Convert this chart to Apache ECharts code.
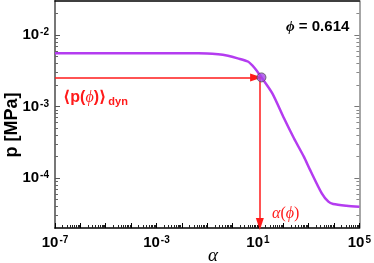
<!DOCTYPE html>
<html><head><meta charset="utf-8">
<script src="https://cdn.jsdelivr.net/npm/echarts@6/dist/echarts.min.js"></script>
<style>html,body{margin:0;padding:0;background:#fff}#c{width:374px;height:263px}</style>
</head><body><div id="c"></div>
<script>
// Curve data
const alpha = [1e-7, 0.045, 0.27, 0.66, 1.6, 4.0, 7.4, 13.8, 37, 107, 263, 646, 1150, 3300, 6000, 9300, 31000, 1e5];
const pressure = [5.56e-3, 5.56e-3, 5.38e-3, 5.13e-3, 4.73e-3, 4.27e-3, 3.47e-3, 2.56e-3, 1.53e-3, 6.85e-4, 3.6e-4, 1.99e-4, 1.29e-4, 6.1e-5, 4.67e-5, 4.34e-5, 4.1e-5, 3.97e-5];
// Annotation values
const pDyn = 2.56e-3;
const alphaPoint = 13.8;
const alphaPhi = 11.9;
const hArrowEnd = 8.5;
const vArrowEnd = 2.27e-5;
// Axis ranges and ticks
const xRange = [1e-7, 1e5];
const yRange = [2e-5, 3e-2];
const xLabelExps = [-7, -3, 1, 5];
const yLabelExps = [-4, -3, -2];
const minorMult = [2, 3, 4, 5, 6, 7, 8, 9];

const L = Math.log10;
const xMin = L(xRange[0]), xMax = L(xRange[1]);
const yMin = L(yRange[0]), yMax = L(yRange[1]);
function minorTicks(lo, hi) {
  const out = [];
  for (let n = Math.floor(lo) - 1; n <= Math.ceil(hi); n++) {
    for (const k of minorMult) { const v = n + L(k); if (v > lo + 1e-6 && v < hi - 1e-6) out.push(v); }
  }
  return out;
}
const xMajor = []; for (let n = Math.ceil(xMin); n <= xMax; n++) xMajor.push(n);
const yMajor = []; for (let n = Math.ceil(yMin); n <= yMax; n++) yMajor.push(n);
const xMinor = minorTicks(xMin, xMax);
const yMinor = minorTicks(yMin, yMax);

const FONT = 'Liberation Sans, Arial, sans-serif';
const labelRich = {
  b: { fontSize: 15, fontWeight: 'bold', fontFamily: FONT, color: '#000' },
  s: { fontSize: 10, fontWeight: 'bold', fontFamily: FONT, color: '#000', verticalAlign: 'top', padding: [0, 0, 0, 1] }
};
const expFmt = v => '{b|10}{s|' + Math.round(v) + '}';

function ax(min, max, pos, tickVals, tickLen, tickColor, line, labelVals) {
  return {
    type: 'value', min: min, max: max, position: pos, gridIndex: 0, splitLine: { show: false },
    axisLine: line ? { show: true, onZero: false, lineStyle: line } : { show: false, onZero: false },
    axisTick: tickVals ? { show: true, inside: true, length: tickLen, customValues: tickVals, lineStyle: { color: tickColor, width: 1 } } : { show: false },
    axisLabel: labelVals ? { show: true, customValues: labelVals, margin: (pos === 'left' ? 6 : 7), formatter: expFmt, rich: labelRich } : { show: false }
  };
}

const curve = alpha.map((a, i) => [L(a), L(pressure[i])]);
const RED = '#ff1a1a';
const PURPLE = '#b43cf0';

const option = {
  animation: false,
  grid: { left: 55, right: 11, top: 1, bottom: 35, containLabel: false },
  xAxis: [
    ax(xMin, xMax, 'bottom', xMajor, 5, '#000', { color: '#000', width: 1.5 }, xLabelExps),
    ax(xMin, xMax, 'bottom', xMinor, 3, '#222', null, null),
    ax(xMin, xMax, 'top', null, 0, '#000', { color: '#000', width: 1.5 }, null)
  ],
  yAxis: [
    ax(yMin, yMax, 'left', yMajor, 5, '#555', { color: '#777', width: 2 }, yLabelExps),
    ax(yMin, yMax, 'left', yMinor, 3, '#666', null, null),
    ax(yMin, yMax, 'right', yMajor, 5, '#777', { color: '#888', width: 1.5 }, null),
    ax(yMin, yMax, 'right', yMinor, 3, '#888', null, null)
  ],
  series: [
    {
      type: 'line', xAxisIndex: 0, yAxisIndex: 0, data: curve, showSymbol: false,
      smooth: 0.25,
      lineStyle: { color: PURPLE, width: 2.5 }, z: 3,
      markLine: {
        silent: true, symbol: ['none', 'triangle'], symbolSize: [8, 12], animation: false,
        label: { show: false },
        lineStyle: { color: RED, width: 1.5, type: 'solid' },
        data: [
          [{ coord: [xMin, L(pDyn)] }, { coord: [L(hArrowEnd), L(pDyn)] }],
          [{ coord: [L(alphaPhi), L(pDyn)] }, { coord: [L(alphaPhi), L(vArrowEnd)] }]
        ]
      }
    },
    {
      type: 'scatter', xAxisIndex: 0, yAxisIndex: 0, data: [[L(alphaPoint), L(pDyn)]],
      symbolSize: 9, itemStyle: { color: '#a545e8', borderColor: '#555', borderWidth: 1 }, z: 5
    }
  ],
  graphic: [
    { type: 'text', x: 12, y: 125, rotation: Math.PI / 2,
      style: { text: 'p [MPa]', font: 'bold 18px ' + FONT, fill: '#000', align: 'center', verticalAlign: 'middle' } },
    { type: 'text', x: 213, y: 256,
      style: { text: 'α', font: 'italic 19px "Liberation Serif", "DejaVu Serif", serif', fill: '#000', align: 'center', verticalAlign: 'middle' } },
    { type: 'text', x: 286, y: 27,
      style: { text: '{i|ϕ}{n| = 0.614}', align: 'left', verticalAlign: 'middle',
        rich: { i: { font: 'italic bold 15px "Liberation Serif", "DejaVu Serif", serif', fill: '#000' },
                n: { font: 'bold 15px ' + FONT, fill: '#000' } } } },
    { type: 'text', x: 63, y: 98,
      style: { text: '{a|⟨p(}{i|ϕ}{a|)⟩}{s|dyn}', align: 'left', verticalAlign: 'middle',
        rich: { a: { font: 'bold 16px ' + FONT + ', "DejaVu Sans"', fill: RED },
                i: { font: 'italic 16px "Liberation Serif", "DejaVu Serif", serif', fill: RED },
                s: { font: 'bold 11px ' + FONT, fill: RED, verticalAlign: 'bottom', padding: [8, 0, 0, 2] } } } },
    { type: 'text', x: 272, y: 214,
      style: { text: '{i|α}{a|(}{i|ϕ}{a|)}', align: 'left', verticalAlign: 'middle',
        rich: { i: { font: 'italic 16px "Liberation Serif", "DejaVu Serif", serif', fill: RED },
                a: { font: '16px "Liberation Serif", "DejaVu Serif", serif', fill: RED } } } }
  ]
};
const chart = echarts.init(document.getElementById('c'), null, { renderer: 'canvas' });
chart.setOption(option);
</script></body></html>
